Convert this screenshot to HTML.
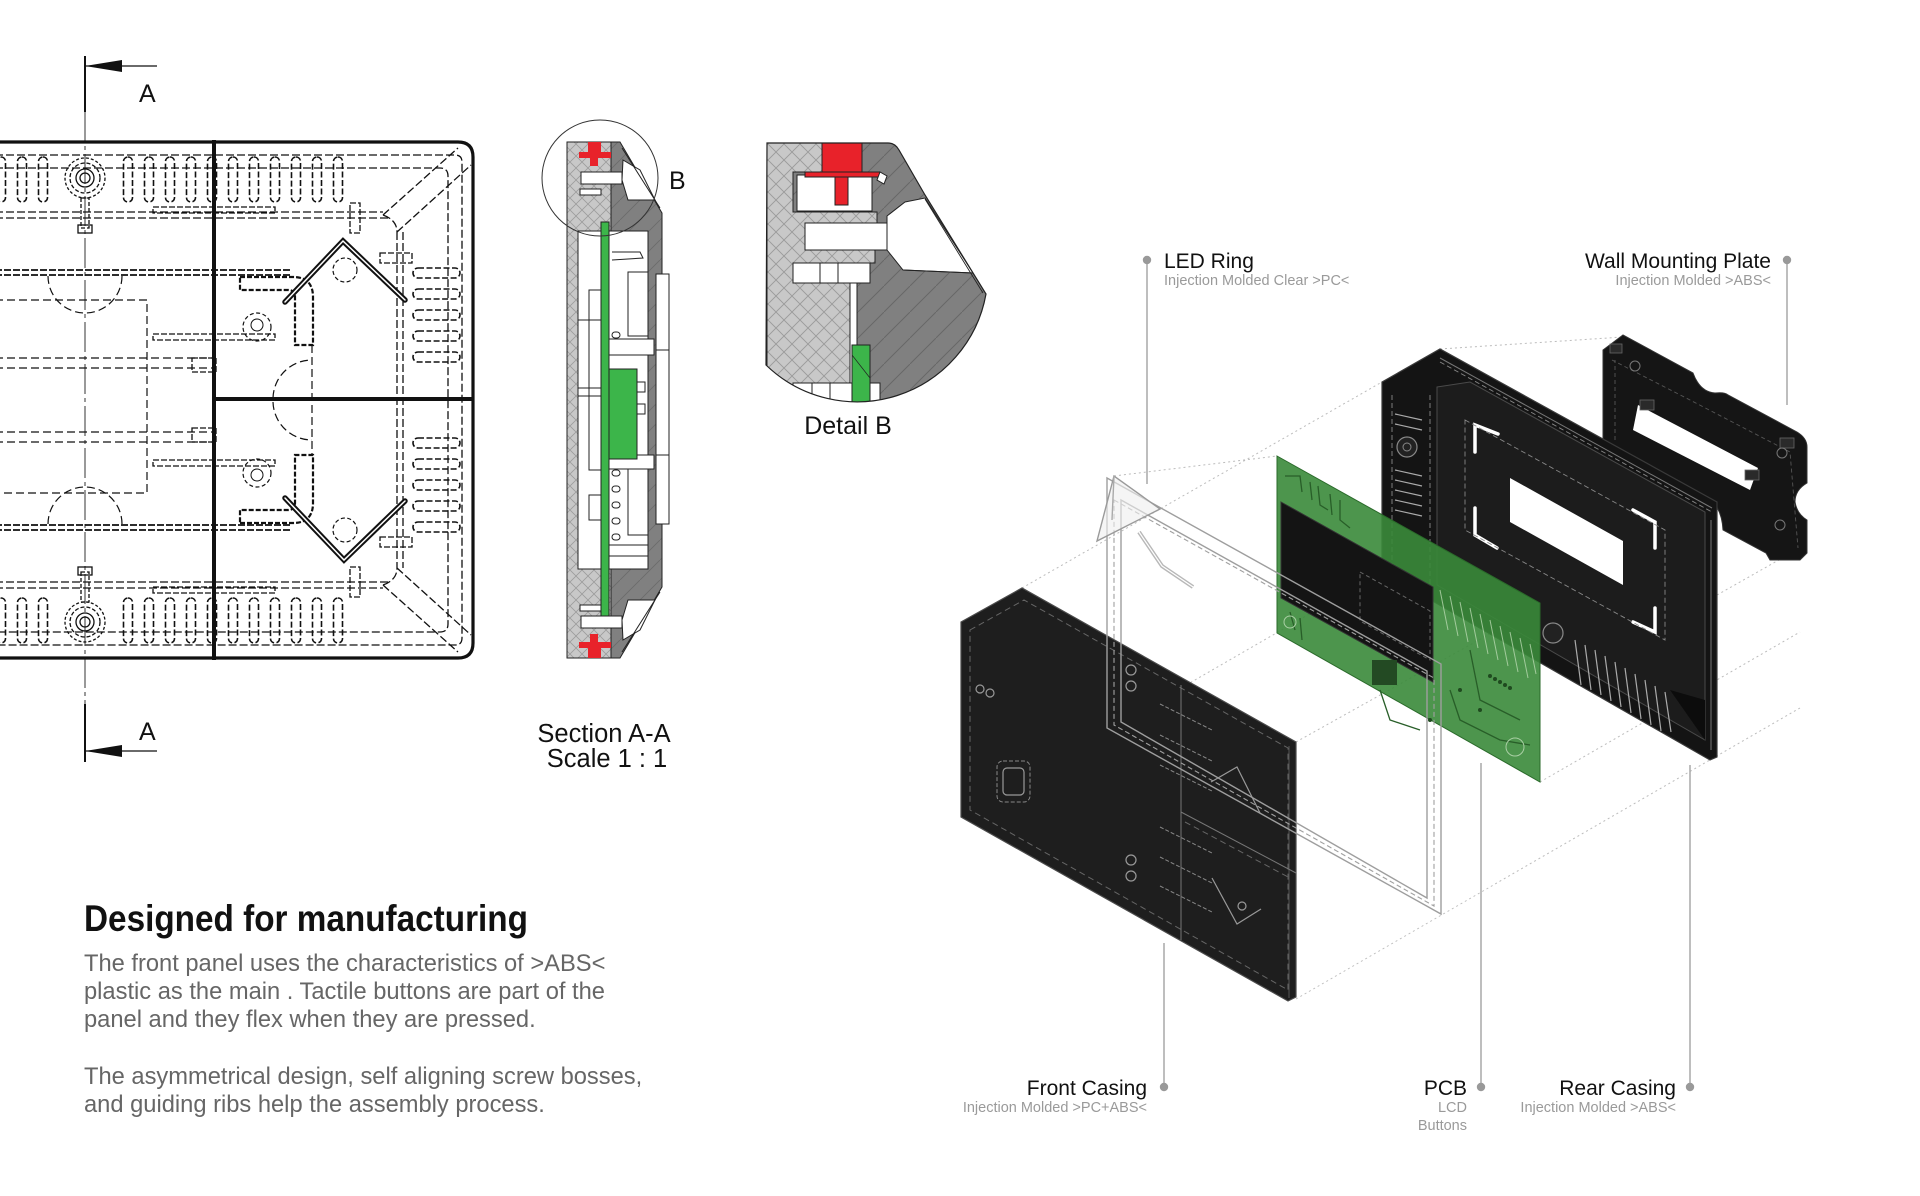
<!DOCTYPE html>
<html>
<head>
<meta charset="utf-8">
<style>
html,body{margin:0;padding:0;background:#fff;}
svg{display:block;}
</style>
</head>
<body>
<svg width="1920" height="1196" viewBox="0 0 1920 1196" xmlns="http://www.w3.org/2000/svg" font-family="'Liberation Sans', Arial, sans-serif">
<defs>
  <pattern id="xh" width="12" height="12" patternUnits="userSpaceOnUse">
    <rect width="12" height="12" fill="#c8c8c8"/>
    <path d="M0,0 L12,12 M12,0 L0,12" stroke="#9c9c9c" stroke-width="0.8"/>
  </pattern>
  <pattern id="dh" width="20" height="20" patternUnits="userSpaceOnUse">
    <rect width="20" height="20" fill="#808080"/>
    <path d="M0,20 L20,0" stroke="#6a6a6a" stroke-width="0.8"/>
  </pattern>
  <pattern id="dh2" width="26" height="26" patternUnits="userSpaceOnUse">
    <rect width="26" height="26" fill="#808080"/>
    <path d="M0,26 L26,0" stroke="#676767" stroke-width="1"/>
  </pattern>
  <pattern id="xh2" width="16" height="16" patternUnits="userSpaceOnUse">
    <rect width="16" height="16" fill="#c8c8c8"/>
    <path d="M0,0 L16,16 M16,0 L0,16" stroke="#9a9a9a" stroke-width="0.9"/>
  </pattern>
  <clipPath id="detclip">
    <path d="M767,143 L888,143 Q895,143 899,150 L925,195 L986,294 A131,131 0 0 1 766,365 Z"/>
  </clipPath>
</defs>

<!-- ================= SECTION ARROWS A-A ================= -->
<g stroke="#111" fill="none">
  <line x1="85" y1="56" x2="85" y2="112" stroke-width="2"/>
  <line x1="85" y1="66" x2="157" y2="66" stroke-width="1.2"/>
  <line x1="85" y1="704" x2="85" y2="762" stroke-width="2"/>
  <line x1="85" y1="751" x2="157" y2="751" stroke-width="1.2"/>
  <line x1="85" y1="112" x2="85" y2="704" stroke-width="1" stroke-dasharray="30 4 4 4" stroke="#333"/>
</g>
<polygon points="85,66 122,60 122,72" fill="#111"/>
<polygon points="85,751 122,745 122,757" fill="#111"/>
<text x="139" y="102" font-size="25" fill="#111">A</text>
<text x="139" y="740" font-size="25" fill="#111">A</text>

<!-- ================= FRONT VIEW ================= -->
<g fill="none" stroke="#111">
  <g stroke-width="1.3" stroke-dasharray="8 3">
    <path d="M-5,155 H455 Q462,155 462,162 V638 Q462,645 455,645 H-5"/>
    <path d="M-5,168 H440 Q448,168 448,176 V624 Q448,632 440,632 H-5"/>
    <line x1="-5" y1="212" x2="383" y2="212"/>
    <line x1="-5" y1="218" x2="388" y2="218"/>
    <line x1="-5" y1="582" x2="388" y2="582"/>
    <line x1="-5" y1="588" x2="383" y2="588"/>
    <line x1="383" y1="215" x2="458" y2="148"/>
    <line x1="397" y1="232" x2="471" y2="165"/>
    <line x1="383" y1="585" x2="458" y2="652"/>
    <line x1="397" y1="568" x2="471" y2="635"/>
    <path d="M383,215 Q397,220 397,232"/>
    <path d="M383,585 Q397,580 397,568"/>
    <line x1="397" y1="232" x2="397" y2="568"/>
    <line x1="403" y1="232" x2="403" y2="568"/>
  </g>
  <g stroke-width="1.6" stroke-dasharray="6 2.5">
    <rect x="-3.5" y="157" width="9" height="45" rx="4.5"/>
    <rect x="17.5" y="157" width="9" height="45" rx="4.5"/>
    <rect x="38.5" y="157" width="9" height="45" rx="4.5"/>
    <rect x="123.5" y="157" width="9" height="45" rx="4.5"/>
    <rect x="144.5" y="157" width="9" height="45" rx="4.5"/>
    <rect x="165.5" y="157" width="9" height="45" rx="4.5"/>
    <rect x="186.5" y="157" width="9" height="45" rx="4.5"/>
    <rect x="207.5" y="157" width="9" height="45" rx="4.5"/>
    <rect x="228.5" y="157" width="9" height="45" rx="4.5"/>
    <rect x="249.5" y="157" width="9" height="45" rx="4.5"/>
    <rect x="270.5" y="157" width="9" height="45" rx="4.5"/>
    <rect x="291.5" y="157" width="9" height="45" rx="4.5"/>
    <rect x="312.5" y="157" width="9" height="45" rx="4.5"/>
    <rect x="333.5" y="157" width="9" height="45" rx="4.5"/>
    <rect x="-3.5" y="598" width="9" height="45" rx="4.5"/>
    <rect x="17.5" y="598" width="9" height="45" rx="4.5"/>
    <rect x="38.5" y="598" width="9" height="45" rx="4.5"/>
    <rect x="123.5" y="598" width="9" height="45" rx="4.5"/>
    <rect x="144.5" y="598" width="9" height="45" rx="4.5"/>
    <rect x="165.5" y="598" width="9" height="45" rx="4.5"/>
    <rect x="186.5" y="598" width="9" height="45" rx="4.5"/>
    <rect x="207.5" y="598" width="9" height="45" rx="4.5"/>
    <rect x="228.5" y="598" width="9" height="45" rx="4.5"/>
    <rect x="249.5" y="598" width="9" height="45" rx="4.5"/>
    <rect x="270.5" y="598" width="9" height="45" rx="4.5"/>
    <rect x="291.5" y="598" width="9" height="45" rx="4.5"/>
    <rect x="312.5" y="598" width="9" height="45" rx="4.5"/>
    <rect x="333.5" y="598" width="9" height="45" rx="4.5"/>
    <rect x="413" y="268" width="47" height="10" rx="5"/>
    <rect x="413" y="289" width="47" height="10" rx="5"/>
    <rect x="413" y="310" width="47" height="10" rx="5"/>
    <rect x="413" y="331" width="47" height="10" rx="5"/>
    <rect x="413" y="352" width="47" height="10" rx="5"/>
    <rect x="413" y="438" width="47" height="10" rx="5"/>
    <rect x="413" y="459" width="47" height="10" rx="5"/>
    <rect x="413" y="480" width="47" height="10" rx="5"/>
    <rect x="413" y="501" width="47" height="10" rx="5"/>
    <rect x="413" y="522" width="47" height="10" rx="5"/>
  </g>
  <g stroke-width="1.3">
    <circle cx="85" cy="178" r="20" stroke-dasharray="3 2"/>
    <circle cx="85" cy="178" r="15" stroke-dasharray="4 2"/>
    <circle cx="85" cy="178" r="9"/>
    <circle cx="85" cy="178" r="5"/>
    <rect x="81" y="198" width="8" height="30" stroke-dasharray="4 2"/>
    <rect x="78" y="225" width="14" height="8"/>
    <circle cx="85" cy="622" r="20" stroke-dasharray="3 2"/>
    <circle cx="85" cy="622" r="15" stroke-dasharray="4 2"/>
    <circle cx="85" cy="622" r="9"/>
    <circle cx="85" cy="622" r="5"/>
    <rect x="81" y="572" width="8" height="30" stroke-dasharray="4 2"/>
    <rect x="78" y="567" width="14" height="8"/>
  </g>
  <g stroke-width="1.3" stroke-dasharray="6 2">
    <rect x="153" y="207" width="122" height="6"/>
    <rect x="153" y="587" width="122" height="6"/>
    <rect x="350" y="203" width="10" height="30"/>
    <rect x="350" y="567" width="10" height="30"/>
    <rect x="380" y="253" width="32" height="10"/>
    <rect x="380" y="537" width="32" height="10"/>
    <rect x="153" y="334" width="122" height="6"/>
    <rect x="153" y="460" width="122" height="6"/>
    <rect x="192" y="358" width="24" height="14"/>
    <rect x="192" y="428" width="24" height="14"/>
  </g>
  <g stroke-width="1.8" stroke-dasharray="7 2">
    <line x1="-5" y1="270" x2="290" y2="270"/>
    <line x1="-5" y1="275" x2="290" y2="275"/>
    <line x1="-5" y1="525" x2="290" y2="525"/>
    <line x1="-5" y1="530" x2="290" y2="530"/>
  </g>
  <g stroke-width="1.2" stroke-dasharray="8 4">
    <path d="M48,276 A37,37 0 0 0 122,276"/>
    <path d="M48,524 A37,37 0 0 1 122,524"/>
    <path d="M-5,300 H147 V493 H-5"/>
    <line x1="-5" y1="358" x2="213" y2="358"/>
    <line x1="-5" y1="368" x2="213" y2="368"/>
    <line x1="-5" y1="432" x2="213" y2="432"/>
    <line x1="-5" y1="442" x2="213" y2="442"/>
    <line x1="312" y1="345" x2="312" y2="455"/>
    <path d="M273,398 A39,39 0 0 1 312,360"/>
    <path d="M273,402 A39,39 0 0 0 312,440"/>
  </g>
  <g stroke-width="2.2" stroke-dasharray="5 2">
    <path d="M240,277 H293 Q313,277 313,297 V345 H295 V297 Q295,290 288,290 H240 Z"/>
    <path d="M240,523 H293 Q313,523 313,503 V455 H295 V503 Q295,510 288,510 H240 Z"/>
  </g>
  <g stroke-width="1.2" stroke-dasharray="4 2.5">
    <circle cx="345" cy="270" r="12"/>
    <circle cx="345" cy="530" r="12"/>
    <circle cx="257" cy="327" r="14"/>
    <circle cx="257" cy="473" r="14"/>
  </g>
  <circle cx="257" cy="325" r="6" stroke-width="1"/>
  <circle cx="257" cy="475" r="6" stroke-width="1"/>
  <g stroke-linejoin="miter" stroke-linecap="round">
    <polyline points="285,302 343,241 405,300" stroke-width="5.5"/>
    <polyline points="285,302 343,241 405,300" stroke-width="1.5" stroke="#fff"/>
    <polyline points="285,498 344,560 405,501" stroke-width="5.5"/>
    <polyline points="285,498 344,560 405,501" stroke-width="1.5" stroke="#fff"/>
  </g>
  <path d="M-5,142 H458 Q473,142 473,157 V643 Q473,658 458,658 H-5" stroke-width="3.2"/>
  <line x1="214" y1="140" x2="214" y2="660" stroke-width="4"/>
  <line x1="214" y1="399" x2="473" y2="399" stroke-width="4"/>
</g>

<!-- ================= SECTION A-A ================= -->
<g stroke="#222" stroke-width="1">
  <rect x="567" y="142" width="44" height="516" fill="url(#xh)"/>
  <path d="M611,142 H620 L662,213 V587 L620,658 H611 Z" fill="url(#dh)"/>
  <rect x="609" y="231" width="39" height="338" fill="#fff"/>
  <rect x="578" y="231" width="23" height="338" fill="#fff"/>
  <rect x="589" y="290" width="12" height="180" fill="#fff"/>
  <line x1="578" y1="320" x2="601" y2="320"/>
  <line x1="578" y1="388" x2="601" y2="388"/>
  <line x1="578" y1="396" x2="601" y2="396"/>
  <rect x="589" y="495" width="12" height="25" fill="#fff"/>
  <rect x="628" y="272" width="20" height="64" fill="#fff"/>
  <rect x="609" y="339" width="45" height="16" fill="#fff"/>
  <rect x="628" y="460" width="20" height="75" fill="#fff"/>
  <rect x="609" y="455" width="45" height="14" fill="#fff"/>
  <rect x="612" y="332" width="8" height="6" rx="3" fill="#fff"/>
  <rect x="612" y="470" width="8" height="6" rx="3" fill="#fff"/>
  <rect x="612" y="486" width="8" height="6" rx="3" fill="#fff"/>
  <rect x="612" y="502" width="8" height="6" rx="3" fill="#fff"/>
  <rect x="612" y="518" width="8" height="6" rx="3" fill="#fff"/>
  <rect x="612" y="534" width="8" height="6" rx="3" fill="#fff"/>
  <polyline points="612,252 640,252 643,258 612,260" fill="#fff"/>
  <line x1="609" y1="545" x2="648" y2="545"/>
  <line x1="609" y1="556" x2="648" y2="556"/>
  <rect x="656" y="274" width="13" height="250" fill="#fff"/>
  <line x1="656" y1="350" x2="669" y2="350"/>
  <line x1="656" y1="455" x2="669" y2="455"/>
  <rect x="601" y="222" width="8" height="406" fill="#3cb54a"/>
  <rect x="609" y="369" width="28" height="90" fill="#3cb54a"/>
  <rect x="637" y="382" width="8" height="10" fill="#fff"/>
  <rect x="637" y="404" width="8" height="10" fill="#fff"/>
  <g id="capTop">
    <rect x="581" y="172" width="41" height="12" fill="#fff"/>
    <rect x="580" y="189" width="21" height="6" fill="#fff"/>
    <polygon points="623,160 640,170 655,200 628,200 622,180" fill="#fff"/>
    <line x1="622" y1="148" x2="660" y2="208"/>
    <rect x="588" y="142" width="13" height="10" fill="#e8222a" stroke="none"/>
    <rect x="579" y="152" width="32" height="6" fill="#e8222a" stroke="none"/>
    <rect x="590" y="158" width="8" height="8" fill="#e8222a" stroke="none"/>
  </g>
  <use href="#capTop" transform="translate(0,800) scale(1,-1)"/>
</g>
<circle cx="600" cy="178" r="58" fill="none" stroke="#333" stroke-width="1"/>
<text x="669" y="189" font-size="25" fill="#111">B</text>
<text x="604" y="742" font-size="25.5" text-anchor="middle" fill="#111">Section A-A</text>
<text x="607" y="767" font-size="25.5" text-anchor="middle" fill="#111">Scale 1 : 1</text>

<!-- ================= DETAIL B ================= -->
<g clip-path="url(#detclip)" stroke="#222" stroke-width="1">
  <rect x="760" y="130" width="240" height="290" fill="url(#dh2)" stroke="none"/>
  <path d="M767,143 L822,143 L822,172 L793,172 L793,212 L877,212 L877,223 L805,223 L805,250 L875,250 L875,263 L793,263 L793,283 L850,283 L850,420 L767,420 Z" fill="url(#xh2)"/>
  <rect x="797" y="175" width="75" height="36" fill="#fff"/>
  <rect x="805" y="223" width="82" height="27" fill="#fff"/>
  <rect x="793" y="263" width="77" height="20" fill="#fff"/>
  <line x1="820" y1="263" x2="820" y2="283"/>
  <line x1="838" y1="263" x2="838" y2="283"/>
  <polygon points="887,216 905,202 925,198 973,273 903,270 887,250" fill="#fff"/>
  <line x1="925" y1="199" x2="983" y2="293" stroke-width="0.9"/>
  <line x1="903" y1="270" x2="973" y2="273"/>
  <line x1="887" y1="216" x2="887" y2="250"/>
  <rect x="850" y="283" width="7" height="130" fill="#fff"/>
  <rect x="793" y="383" width="59" height="30" fill="#fff"/>
  <line x1="812" y1="383" x2="812" y2="413"/>
  <line x1="830" y1="383" x2="830" y2="413"/>
  <rect x="870" y="383" width="10" height="30" fill="#fff"/>
  <rect x="822" y="143" width="40" height="29" fill="#e8222a"/>
  <rect x="805" y="172" width="75" height="5" fill="#e8222a"/>
  <rect x="835" y="177" width="13" height="28" fill="#e8222a"/>
  <polygon points="880,172 887,176 884,184 877,180" fill="#fff"/>
  <rect x="852" y="345" width="18" height="70" fill="#3cb54a"/>
  <line x1="852" y1="355" x2="870" y2="378" stroke-width="0.7"/>
</g>
<path d="M767,143 L888,143 Q895,143 899,150 L925,195 L986,294 A131,131 0 0 1 766,365 Z" fill="none" stroke="#222" stroke-width="1.2"/>
<text x="848" y="434" font-size="25" text-anchor="middle" fill="#111">Detail B</text>

<!-- ================= EXPLODED VIEW ================= -->
<g stroke="#bcbcbc" stroke-width="1" stroke-dasharray="2 3" fill="none">
  <line x1="961" y1="815" x2="1382" y2="572"/>
  <line x1="1296" y1="999" x2="1800" y2="708"/>
  <line x1="1296" y1="742" x2="1717" y2="507"/>
  <line x1="1022" y1="588" x2="1382" y2="382"/>
  <line x1="1440" y1="349" x2="1623" y2="337"/>
  <line x1="1540" y1="782" x2="1800" y2="632"/>
  <line x1="1717" y1="595" x2="1800" y2="548"/>
  <line x1="1114" y1="476" x2="1277" y2="456"/>
</g>

<!-- wall mounting plate -->
<g>
  <path d="M1603,350 L1623,335 L1693,373 Q1700,392 1715,393 Q1725,392 1728,395 L1797,432 Q1807,438 1807,447 L1807,483 Q1795,490 1795,502 Q1797,514 1807,520 L1807,553 L1800,560 L1770,560 L1766,553 L1723,530 Q1722,510 1711,500 Q1700,494 1690,496 L1640,470 L1612,455 L1603,438 Z" fill="#151515" stroke="#333" stroke-width="1"/>
  <polygon points="1638,405 1758,468 1750,490 1633,430" fill="#fff"/>
  <g stroke="#555" stroke-width="0.9" fill="none" stroke-dasharray="4 3">
    <polyline points="1612,360 1690,400 1790,452 1798,548"/>
    <line x1="1615" y1="440" x2="1615" y2="360"/>
  </g>
  <g fill="#2a2a2a" stroke="#666" stroke-width="0.8">
    <rect x="1640" y="400" width="14" height="10"/>
    <rect x="1745" y="470" width="14" height="10"/>
    <rect x="1780" y="438" width="14" height="10"/>
    <rect x="1610" y="344" width="12" height="9"/>
  </g>
  <circle cx="1635" cy="366" r="5" fill="none" stroke="#777" stroke-width="1"/>
  <circle cx="1782" cy="453" r="5" fill="none" stroke="#777" stroke-width="1"/>
  <circle cx="1780" cy="525" r="5" fill="none" stroke="#777" stroke-width="1"/>
</g>

<!-- rear casing -->
<g>
  <polygon points="1382,382 1440,349 1717,502 1717,757 1710,760 1382,572" fill="#141414" stroke="#3a3a3a" stroke-width="1.2"/>
  <polygon points="1437,387 1470,382 1705,512 1705,740 1437,585" fill="#1c1c1c" stroke="#4a4a4a" stroke-width="1"/>
  <polygon points="1510,478 1623,541 1623,585 1510,522" fill="#fff"/>
  <g stroke="#fff" stroke-width="3.5" fill="none" stroke-linecap="round">
    <polyline points="1475,452 1475,425 1498,434"/>
    <polyline points="1475,508 1475,535 1497,548"/>
    <polyline points="1633,510 1655,522 1655,548"/>
    <polyline points="1655,608 1655,632 1633,622"/>
  </g>
  <g stroke="#888" stroke-width="0.9" fill="none" stroke-dasharray="5 3">
    <polygon points="1465,420 1665,530 1665,640 1465,530"/>
    <line x1="1392" y1="395" x2="1392" y2="570"/>
    <line x1="1430" y1="395" x2="1430" y2="585"/>
    <line x1="1440" y1="362" x2="1712" y2="512"/>
  </g>
  <g stroke="#aaa" stroke-width="1.2" fill="none">
    <line x1="1395" y1="414" x2="1422" y2="420"/>
    <line x1="1395" y1="424" x2="1422" y2="430"/>
    <line x1="1395" y1="470" x2="1422" y2="476"/>
    <line x1="1395" y1="480" x2="1422" y2="486"/>
    <line x1="1395" y1="490" x2="1422" y2="496"/>
    <line x1="1395" y1="500" x2="1422" y2="506"/>
    <line x1="1395" y1="510" x2="1422" y2="516"/>
    <path d="M1575,640 l6,45 M1585,645 l6,45 M1595,650 l6,45 M1605,656 l6,45 M1615,662 l6,45 M1625,668 l6,45 M1635,674 l6,45 M1645,680 l6,45 M1655,686 l6,45 M1665,692 l6,40"/>
  </g>
  <circle cx="1407" cy="447" r="10" fill="#222" stroke="#888" stroke-width="1.2"/>
  <circle cx="1407" cy="447" r="4" fill="none" stroke="#888"/>
  <circle cx="1553" cy="633" r="10" fill="#222" stroke="#888" stroke-width="1.2"/>
  <polygon points="1670,690 1705,740 1705,700" fill="#0c0c0c"/>
  <g stroke="#777" stroke-width="1" fill="none">
    <line x1="1711" y1="520" x2="1711" y2="750"/>
    <line x1="1440" y1="358" x2="1712" y2="508"/>
  </g>
</g>

<!-- PCB -->
<g>
  <polygon points="1277,456 1540,603 1540,782 1277,633" fill="#3a8a3a" fill-opacity="0.9" stroke="#2a6a2a" stroke-width="1"/>
  <polygon points="1281,502 1433,587 1433,682 1281,598" fill="#141414" stroke="#333"/>
  <polygon points="1360,572 1430,611 1430,660 1360,621" fill="none" stroke="#666" stroke-dasharray="4 3"/>
  <g stroke="#285e28" stroke-width="1.3" fill="none">
    <polyline points="1285,476 1300,476 1302,492"/>
    <polyline points="1310,482 1312,500"/>
    <polyline points="1318,486 1320,505 1328,510"/>
    <polyline points="1330,494 1332,515"/>
    <polyline points="1340,500 1340,520 1350,528"/>
    <polyline points="1290,612 1295,630"/>
    <polyline points="1300,618 1302,640"/>
    <polyline points="1380,690 1390,720 1420,730"/>
    <polyline points="1450,690 1460,720 1500,740 1530,745"/>
    <polyline points="1470,650 1480,700 1520,720"/>
    <rect x="1372" y="660" width="25" height="25" fill="#234a23" stroke="none"/>
  </g>
  <g stroke="#b8d8b0" stroke-width="1" fill="none" opacity="0.8">
    <path d="M1440,590 l8,40 M1450,596 l8,40 M1460,602 l8,40 M1470,608 l8,40 M1480,614 l8,40 M1490,620 l8,40 M1500,626 l8,40 M1510,632 l8,40 M1520,638 l8,40 M1530,644 l6,30"/>
  </g>
  <circle cx="1290" cy="622" r="6" fill="none" stroke="#a9cfa4"/>
  <circle cx="1515" cy="747" r="9" fill="none" stroke="#a9cfa4"/>
  <g fill="#1f4a1f">
    <circle cx="1490" cy="676" r="2"/><circle cx="1495" cy="679" r="2"/><circle cx="1500" cy="682" r="2"/><circle cx="1505" cy="685" r="2"/><circle cx="1510" cy="688" r="2"/>
    <circle cx="1460" cy="690" r="2"/><circle cx="1480" cy="710" r="2"/><circle cx="1430" cy="720" r="2"/>
  </g>
</g>

<!-- front casing -->
<g>
  <polygon points="961,622 1022,588 1296,742 1296,997 1288,1001 961,817" fill="#1e1e1e" stroke="#4a4a4a" stroke-width="1.2"/>
  <polygon points="970,630 1024,600 1288,748 1288,990 970,810" fill="none" stroke="#666" stroke-width="1" stroke-dasharray="6 4"/>
  <line x1="1289" y1="746" x2="1289" y2="998" stroke="#555" stroke-width="1"/>
  <line x1="1181" y1="685" x2="1181" y2="940" stroke="#777" stroke-width="1"/>
  <line x1="1181" y1="812" x2="1296" y2="873" stroke="#777" stroke-width="1"/>
  <line x1="1185" y1="822" x2="1290" y2="878" stroke="#666" stroke-dasharray="6 4"/>
  <g stroke="#888" stroke-width="1" fill="none" stroke-dasharray="4 2">
    <line x1="1160" y1="704" x2="1212" y2="730"/>
    <line x1="1160" y1="735" x2="1212" y2="761"/>
    <line x1="1160" y1="765" x2="1212" y2="791"/>
    <line x1="1160" y1="827" x2="1212" y2="853"/>
    <line x1="1160" y1="857" x2="1212" y2="883"/>
    <line x1="1160" y1="886" x2="1212" y2="912"/>
    <rect x="997" y="761" width="33" height="41" rx="6"/>
  </g>
  <g stroke="#999" stroke-width="1.2" fill="none">
    <polyline points="1211,782 1237,767 1260,813"/>
    <polyline points="1212,878 1237,924 1261,909"/>
    <rect x="1003" y="768" width="21" height="27" rx="4"/>
    <circle cx="980" cy="689" r="4"/>
    <circle cx="990" cy="693" r="4"/>
    <circle cx="1131" cy="670" r="5"/>
    <circle cx="1131" cy="686" r="5"/>
    <circle cx="1131" cy="860" r="5"/>
    <circle cx="1131" cy="876" r="5"/>
    <circle cx="1242" cy="906" r="4"/>
  </g>
</g>

<!-- LED ring -->
<g fill="none" stroke="#9e9e9e" stroke-width="1.4">
  <polygon points="1107,478 1441,664 1441,914 1107,728"/>
  <polygon points="1121,500 1427,671 1427,898 1121,722"/>
  <polygon points="1114,500 1434,678 1434,906 1114,725" stroke-dasharray="5 3" stroke="#a0a0a0" stroke-width="1.1"/>
  <polygon points="1114,476 1097,541 1160,509" fill="#efefef" fill-opacity="0.6" stroke="#9a9a9a"/>
  <line x1="1114" y1="476" x2="1112" y2="520" stroke="#aaa"/>
  <polyline points="1139,532 1162,566 1193,587" stroke-width="4" stroke="#b8b8b8"/>
  <polyline points="1139,532 1162,566 1193,587" stroke-width="1.2" stroke="#fff"/>
</g>

<!-- leader lines -->
<g stroke="#a8a8a8" stroke-width="1.5">
  <line x1="1147" y1="260" x2="1147" y2="484"/>
  <line x1="1787" y1="260" x2="1787" y2="405"/>
  <line x1="1164" y1="943" x2="1164" y2="1087"/>
  <line x1="1481" y1="763" x2="1481" y2="1087"/>
  <line x1="1690" y1="765" x2="1690" y2="1087"/>
</g>
<g fill="#999">
  <circle cx="1147" cy="260" r="4.2"/>
  <circle cx="1787" cy="260" r="4.2"/>
  <circle cx="1164" cy="1087" r="4.2"/>
  <circle cx="1481" cy="1087" r="4.2"/>
  <circle cx="1690" cy="1087" r="4.2"/>
</g>

<g font-size="21" fill="#111">
  <text x="1164" y="268">LED Ring</text>
  <text x="1771" y="268" text-anchor="end">Wall Mounting Plate</text>
  <text x="1147" y="1095" text-anchor="end">Front Casing</text>
  <text x="1467" y="1095" text-anchor="end">PCB</text>
  <text x="1676" y="1095" text-anchor="end">Rear Casing</text>
</g>
<g font-size="14.5" fill="#9a9a9a">
  <text x="1164" y="285">Injection Molded Clear &gt;PC&lt;</text>
  <text x="1771" y="285" text-anchor="end">Injection Molded &gt;ABS&lt;</text>
  <text x="1147" y="1112" text-anchor="end">Injection Molded &gt;PC+ABS&lt;</text>
  <text x="1467" y="1112" text-anchor="end">LCD</text>
  <text x="1467" y="1130" text-anchor="end">Buttons</text>
  <text x="1676" y="1112" text-anchor="end">Injection Molded &gt;ABS&lt;</text>
</g>

<!-- ================= TEXT BLOCK ================= -->
<text x="84" y="931" font-size="37" font-weight="bold" fill="#111" textLength="444" lengthAdjust="spacingAndGlyphs">Designed for manufacturing</text>
<g font-size="23.7" fill="#666">
  <text x="84" y="971">The front panel uses the characteristics of &gt;ABS&lt;</text>
  <text x="84" y="999">plastic as the main . Tactile buttons are part of the</text>
  <text x="84" y="1027">panel and they flex when they are pressed.</text>
  <text x="84" y="1084">The asymmetrical design, self aligning screw bosses,</text>
  <text x="84" y="1112">and guiding ribs help the assembly process.</text>
</g>
</svg>
</body>
</html>
